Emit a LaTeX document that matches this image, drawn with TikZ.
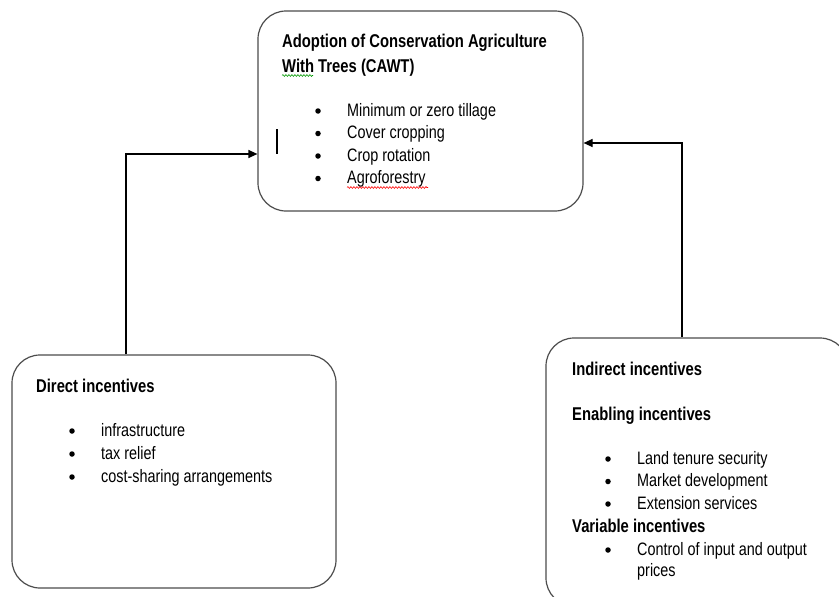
\documentclass[tikz,border=0pt]{standalone}
\usepackage{fontspec}
\setmainfont{Liberation Sans}[FakeStretch=0.8]
\usetikzlibrary{arrows.meta,decorations.pathmorphing}
\begin{document}
\begin{tikzpicture}[x=1pt,y=-1pt,
  box/.style={draw=black!70,line width=1.2pt,rounded corners=28pt,inner sep=0pt},
  conn/.style={draw=black,line width=1.2pt,-{Triangle[length=9pt,width=8pt]}},
  head/.style={anchor=base west,inner sep=0pt,font=\fontsize{18.5}{21}\selectfont\bfseries},
  item/.style={anchor=base west,inner sep=0pt,font=\fontsize{18}{21}\selectfont},
  dot/.style={circle,fill=black,inner sep=0pt,minimum size=5.5pt},
  squig/.style={line width=0.6pt,decorate,decoration={snake,amplitude=0.9pt,segment length=3pt}}]
\useasboundingbox (0,0) rectangle (839,597);
\clip (0,0) rectangle (839,597);
% boxes
\node[box,minimum width=325pt,minimum height=200pt] (top) at (420.5,111) {};
\node[box,minimum width=324pt,minimum height=233pt] (left) at (174,471.5) {};
\node[box,minimum width=302pt,minimum height=268pt] (right) at (697,472) {};
% connectors
\coordinate (lturn) at (126,154);
\coordinate (rturn) at (682,143);
\draw[conn] (left.north -| lturn) -- (lturn) -- (top.west |- lturn);
\draw[conn] (right.north -| rturn) -- (rturn) -- (top.east |- rturn);
% cursor mark
\coordinate (curA) at (277,129);
\coordinate (curB) at (277,154);
\draw[line width=2pt] (curA) -- (curB);
% top box text
\node[head] (t1) at (282,47) {Adoption of Conservation Agriculture};
\node[head] (t2) at (282,72) {With Trees (CAWT)};
\node[dot] (tb1) at (318,111) {};
\node[item] (ti1) at (347,116) {Minimum or zero tillage};
\node[dot] (tb2) at (318,133.5) {};
\node[item] (ti2) at (347,138.5) {Cover cropping};
\node[dot] (tb3) at (318,156) {};
\node[item] (ti3) at (347,161) {Crop rotation};
\node[dot] (tb4) at (318,178.5) {};
\node[item] (ti4) at (347,183.5) {Agroforestry};
\draw[squig,draw=green!60!black] (t2.base west) ++(0,3.5) -- ++(31,0);
\draw[squig,draw=red] (ti4.base west) ++(0,4) -- ++(81,0);
% left box text
\node[head] (l0) at (36,392) {Direct incentives};
\node[dot] (lb1) at (72,431) {};
\node[item] (li1) at (101,436) {infrastructure};
\node[dot] (lb2) at (72,454) {};
\node[item] (li2) at (101,459) {tax relief};
\node[dot] (lb3) at (72,477) {};
\node[item] (li3) at (101,482) {cost-sharing arrangements};
% right box text
\node[head] (r0) at (572,375) {Indirect incentives};
\node[head] (r1) at (572,420) {Enabling incentives};
\node[dot] (rb1) at (608,459) {};
\node[item] (ri1) at (637,464) {Land tenure security};
\node[dot] (rb2) at (608,481.5) {};
\node[item] (ri2) at (637,486.5) {Market development};
\node[dot] (rb3) at (608,504) {};
\node[item] (ri3) at (637,509) {Extension services};
\node[head] (r2) at (572,532) {Variable incentives};
\node[dot] (rb4) at (608,550) {};
\node[item] (ri4) at (637,555) {Control of input and output};
\node[item] (ri5) at (637,576) {prices};
\end{tikzpicture}
\end{document}
